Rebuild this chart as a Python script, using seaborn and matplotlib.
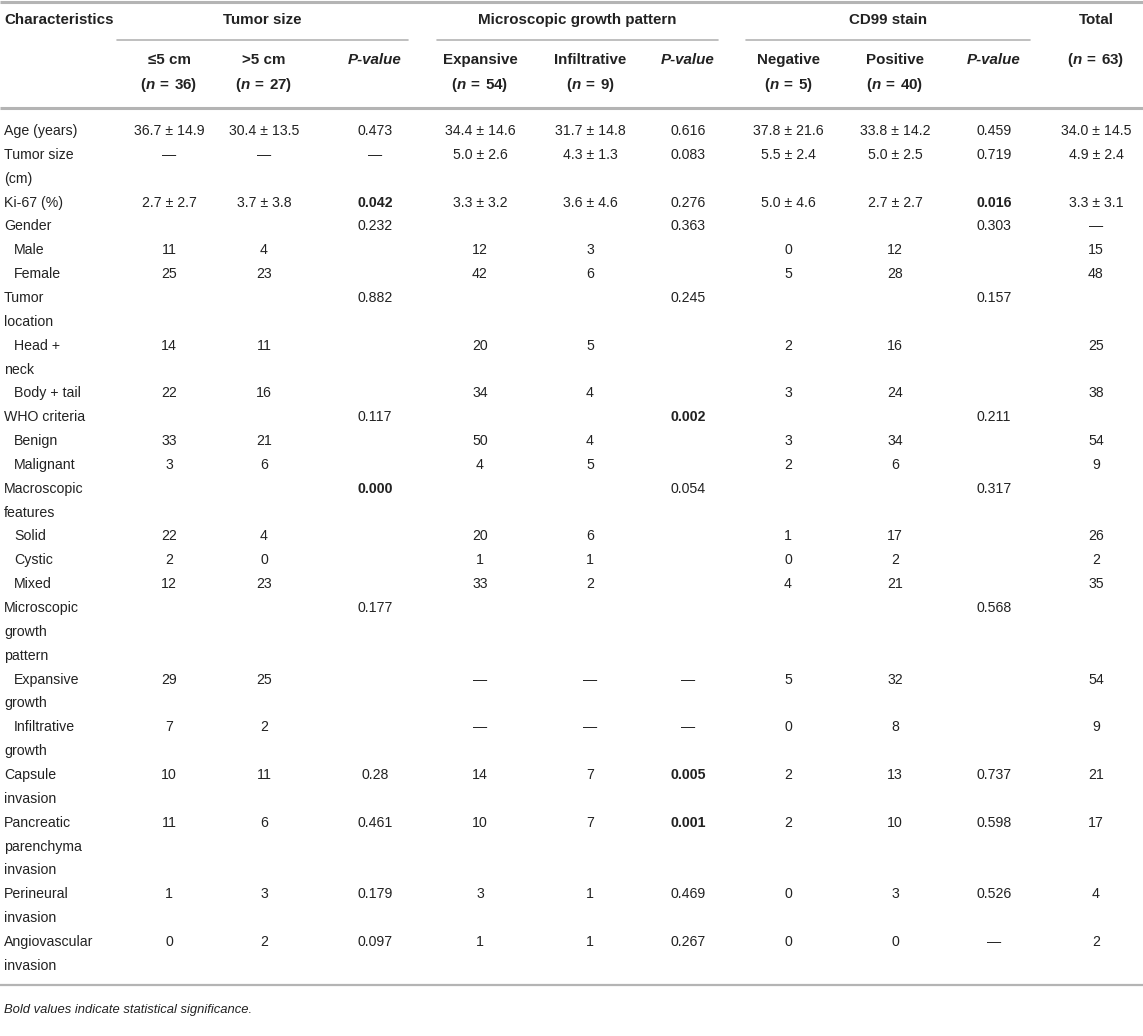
import matplotlib
matplotlib.use("Agg")
import matplotlib.pyplot as plt
import seaborn as sns
import pandas as pd

sns.set_theme(style="white")
plt.rcParams['font.family'] = ['Liberation Sans', 'DejaVu Sans']
plt.rcParams['mathtext.fontset'] = 'custom'
plt.rcParams['mathtext.rm'] = 'Liberation Sans:bold'
plt.rcParams['mathtext.it'] = 'Liberation Sans:bold:italic'

# ---------------- data ----------------
characteristics = [
    "Age (years)", "Tumor size\n(cm)", "Ki-67 (%)", "Gender", "  Male", "  Female",
    "Tumor\nlocation", "  Head +\nneck", "  Body + tail", "WHO criteria", "  Benign",
    "  Malignant", "Macroscopic\nfeatures", "  Solid", "  Cystic", "  Mixed",
    "Microscopic\ngrowth\npattern", "  Expansive\ngrowth", "  Infiltrative\ngrowth",
    "Capsule\ninvasion", "Pancreatic\nparenchyma\ninvasion", "Perineural\ninvasion",
    "Angiovascular\ninvasion",
]
size_le5 = ["36.7 ± 14.9", "—", "2.7 ± 2.7", "", "11", "25", "", "14", "22", "", "33", "3",
            "", "22", "2", "12", "", "29", "7", "10", "11", "1", "0"]
size_gt5 = ["30.4 ± 13.5", "—", "3.7 ± 3.8", "", "4", "23", "", "11", "16", "", "21", "6",
            "", "4", "0", "23", "", "25", "2", "11", "6", "3", "2"]
p_size = ["0.473", "—", "0.042", "0.232", "", "", "0.882", "", "", "0.117", "", "",
          "0.000", "", "", "", "0.177", "", "", "0.28", "0.461", "0.179", "0.097"]
growth_exp = ["34.4 ± 14.6", "5.0 ± 2.6", "3.3 ± 3.2", "", "12", "42", "", "20", "34", "",
              "50", "4", "", "20", "1", "33", "", "—", "—", "14", "10", "3", "1"]
growth_inf = ["31.7 ± 14.8", "4.3 ± 1.3", "3.6 ± 4.6", "", "3", "6", "", "5", "4", "",
              "4", "5", "", "6", "1", "2", "", "—", "—", "7", "7", "1", "1"]
p_growth = ["0.616", "0.083", "0.276", "0.363", "", "", "0.245", "", "", "0.002", "", "",
            "0.054", "", "", "", "", "—", "—", "0.005", "0.001", "0.469", "0.267"]
cd99_neg = ["37.8 ± 21.6", "5.5 ± 2.4", "5.0 ± 4.6", "", "0", "5", "", "2", "3", "",
            "3", "2", "", "1", "0", "4", "", "5", "0", "2", "2", "0", "0"]
cd99_pos = ["33.8 ± 14.2", "5.0 ± 2.5", "2.7 ± 2.7", "", "12", "28", "", "16", "24", "",
            "34", "6", "", "17", "2", "21", "", "32", "8", "13", "10", "3", "0"]
p_cd99 = ["0.459", "0.719", "0.016", "0.303", "", "", "0.157", "", "", "0.211", "", "",
          "0.317", "", "", "", "0.568", "", "", "0.737", "0.598", "0.526", "—"]
total = ["34.0 ± 14.5", "4.9 ± 2.4", "3.3 ± 3.1", "—", "15", "48", "", "25", "38", "",
         "54", "9", "", "26", "2", "35", "", "54", "9", "21", "17", "4", "2"]
significant = ["0.042", "0.000", "0.002", "0.005", "0.001", "0.016"]

group_headers = ["Tumor size", "Microscopic growth pattern", "CD99 stain"]
sub_headers = ["≤5 cm", ">5 cm", "P-value", "Expansive", "Infiltrative", "P-value",
               "Negative", "Positive", "P-value"]
sub_n = ["36", "27", "", "54", "9", "", "5", "40", ""]
total_n = "63"
footnote = "Bold values indicate statistical significance."

df = pd.DataFrame({
    "char": characteristics, "le5": size_le5, "gt5": size_gt5, "p1": p_size,
    "exp": growth_exp, "inf": growth_inf, "p2": p_growth,
    "neg": cd99_neg, "pos": cd99_pos, "p3": p_cd99, "tot": total,
})
value_cols = ["le5", "gt5", "p1", "exp", "inf", "p2", "neg", "pos", "p3", "tot"]

# ---------------- layout ----------------
W, H = 1143, 1036
fig = plt.figure(figsize=(W / 100, H / 100), dpi=100)
ax = fig.add_axes([0, 0, 1, 1])
ax.set_xlim(0, W)
ax.set_ylim(H, 0)
ax.axis("off")

txt = "#222222"
rule = "#b4b4b4"
fs = 10.2
hfs = 10.9
col_x = [169, 264, 375, 480, 590, 688, 788, 895, 994, 1096]
group_spans = [(117, 408), (437, 718), (746, 1030)]
line_h = 23.85
y0 = 131


def n_label(n):
    return "($n$ \u200a=\u200a " + n + ")"


# rules
ax.plot([0, W], [2, 2], color=rule, lw=2.2, solid_capstyle="butt")
ax.plot([0, W], [108, 108], color=rule, lw=2.2, solid_capstyle="butt")
ax.plot([0, W], [985, 985], color=rule, lw=1.6, solid_capstyle="butt")

# header
ax.text(4, 20, "Characteristics", fontsize=hfs, fontweight="bold", color=txt, va="center", ha="left")
for (a, b), g in zip(group_spans, group_headers):
    ax.text((a + b) / 2, 20, g, fontsize=hfs, fontweight="bold", color=txt, va="center", ha="center")
    ax.plot([a, b], [40, 40], color=rule, lw=1.2)
ax.text(col_x[-1], 20, "Total", fontsize=hfs, fontweight="bold", color=txt, va="center", ha="center")
ax.text(col_x[-1], 60, n_label(total_n), fontsize=hfs, fontweight="bold",
        color=txt, va="center", ha="center")
for x, h, n in zip(col_x[:-1], sub_headers, sub_n):
    style = "italic" if h == "P-value" else "normal"
    ax.text(x, 60, h, fontsize=hfs, fontweight="bold", fontstyle=style, color=txt,
            va="center", ha="center")
    if n:
        ax.text(x, 85, n_label(n), fontsize=hfs, fontweight="bold", color=txt,
                va="center", ha="center")

# body
y = y0
for _, row in df.iterrows():
    lines = row["char"].split("\n")
    for k, ln in enumerate(lines):
        indent = 14 if ln.startswith("  ") else 4
        ax.text(indent, y + k * line_h, ln.strip(), fontsize=fs, color=txt, va="center", ha="left")
    for c, x in zip(value_cols, col_x):
        v = row[c]
        if v:
            bold = c in ("p1", "p2", "p3") and v in significant
            ax.text(x, y, v, fontsize=fs, color=txt, va="center", ha="center",
                    fontweight="bold" if bold else "normal")
    y += line_h * len(lines)

ax.text(4, 1010, footnote, fontsize=9.4, fontstyle="italic", color=txt, va="center", ha="left")

fig.savefig("out.png", dpi=100, facecolor="white")
